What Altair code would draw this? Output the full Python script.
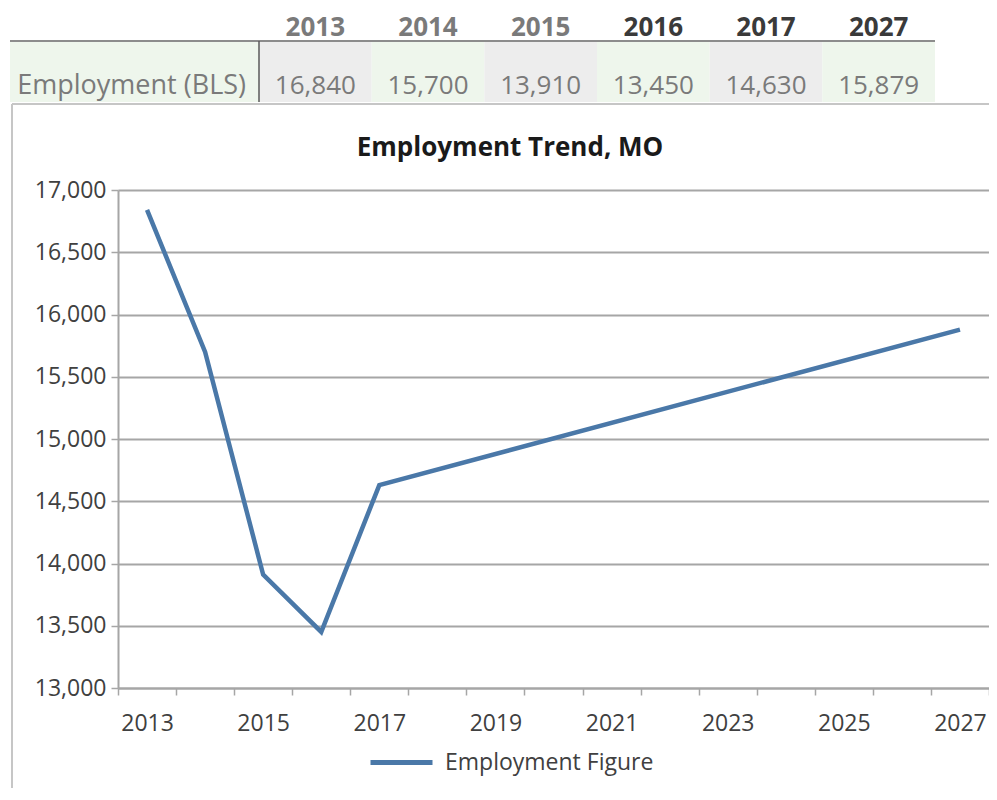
import altair as alt
import pandas as pd

# ---- data ----
years = [2013, 2014, 2015, 2016, 2017, 2027]
employment = [16840, 15700, 13910, 13450, 14630, 15879]
axis_years = list(range(2013, 2028))
y_ticks = list(range(13000, 17001, 500))
series_name = "Employment Figure"
row_label = "Employment (BLS)"
chart_title = "Employment Trend, MO"

FONT = "Open Sans"
LINE_COLOR = "#4a78a8"
GRID = "#a6a6a6"
TEXT_DARK = "#404040"
TEXT_GRAY = "#7a7a7a"
CELL_GRAY = "#ededed"
CELL_GREEN = "#eef6ec"

line_df = pd.DataFrame({"year": years, "value": employment, "series": series_name})
table_df = pd.DataFrame({"col": list(range(1, len(years) + 1)), "year": years, "value": employment})
title_df = pd.DataFrame({"title": [chart_title]})

# ---- main line chart ----
line = alt.Chart(line_df).mark_line(strokeWidth=4.5, strokeJoin="miter").encode(
    x=alt.X(
        "year:O",
        bandPosition=0.5,
        scale=alt.Scale(type="band", domain=axis_years, paddingInner=0, paddingOuter=0),
        axis=alt.Axis(
            title=None, tickBand="extent", labelAngle=0,
            labelExpr="datum.value % 2 == 1 ? datum.label : ''",
            labelFont=FONT, labelFontSize=23, labelColor=TEXT_DARK, labelPadding=17,
            tickSize=7, tickColor=GRID, tickWidth=1.5,
            domainColor=GRID, domainWidth=2, grid=False,
        ),
    ),
    y=alt.Y(
        "value:Q",
        scale=alt.Scale(domain=[13000, 17000], nice=False, zero=False),
        axis=alt.Axis(
            title=None, values=y_ticks,
            labelExpr="format(datum.value, ',')",
            labelFont=FONT, labelFontSize=23, labelColor=TEXT_DARK, labelPadding=5,
            tickSize=7, tickColor=GRID, tickWidth=1.5,
            domainColor=GRID, domainWidth=2,
            grid=True, gridColor=GRID, gridWidth=1.8,
        ),
    ),
    color=alt.Color(
        "series:N",
        scale=alt.Scale(range=[LINE_COLOR]),
        legend=alt.Legend(
            title=None, orient="none", legendX=250, legendY=539, padding=0,
            symbolType="stroke", symbolSize=3844, symbolStrokeWidth=5,
            labelFont=FONT, labelFontSize=23, labelColor=TEXT_DARK, labelOffset=10,
            labelLimit=500,
        ),
    ),
)

# ---- chart title as text ----
title_mark = alt.Chart(title_df).mark_text(
    font=FONT, fontSize=26, fontWeight="bold", color="#1a1a1a",
    align="center", baseline="alphabetic",
).encode(x=alt.value(392), y=alt.value(-34), text="title:N")

# ---- table on top ----
tscale_x = alt.Scale(domain=[0.5, 6.5], range=[141, 817])
tscale_y = alt.Scale(type="band", domain=["header", "value"], range=[-210, -88], paddingInner=0, paddingOuter=0)

cells = alt.Chart(table_df).transform_calculate(
    c0="datum.col - 0.5", c1="datum.col + 0.5", row="'value'"
).mark_rect().encode(
    x=alt.X("c0:Q", scale=tscale_x, axis=None),
    x2="c1:Q",
    y=alt.Y("row:N", scale=tscale_y, axis=None),
    color=alt.condition("datum.col % 2 == 1", alt.value(CELL_GRAY), alt.value(CELL_GREEN)),
)

label_cell = alt.Chart(table_df).transform_filter("datum.col == 1").transform_calculate(
    row="'value'"
).mark_rect(color=CELL_GREEN).encode(
    x=alt.value(-108), x2=alt.value(141),
    y=alt.Y("row:N", scale=tscale_y, axis=None),
)

header_rule = alt.Chart(table_df).transform_filter("datum.col == 1").mark_rule(
    color="#8c8c8c", strokeWidth=2
).encode(x=alt.value(-108), x2=alt.value(817), y=alt.value(-149))

sep_rule = alt.Chart(table_df).transform_filter("datum.col == 1").mark_rule(
    color="#5a5a5a", strokeWidth=1.5
).encode(x=alt.value(141), y=alt.value(-149), y2=alt.value(-88))

border_top = alt.Chart(table_df).transform_filter("datum.col == 1").mark_rule(
    color="#c6c6c6", strokeWidth=2
).encode(x=alt.value(-106), x2=alt.value(880), y=alt.value(-86))

border_left = alt.Chart(table_df).transform_filter("datum.col == 1").mark_rule(
    color="#c6c6c6", strokeWidth=2
).encode(x=alt.value(-106), y=alt.value(-86), y2=alt.value(620))

header_text = alt.Chart(table_df).transform_calculate(
    row="'header'", label="'' + datum.year"
).mark_text(font=FONT, fontSize=26, fontWeight="bold", dy=17).encode(
    x=alt.X("col:Q", scale=tscale_x, axis=None),
    y=alt.Y("row:N", scale=tscale_y, axis=None),
    text="label:N",
    color=alt.condition("datum.year >= 2016", alt.value("#3a3a3a"), alt.value(TEXT_GRAY)),
)

value_text = alt.Chart(table_df).transform_calculate(row="'value'").mark_text(
    font=FONT, fontSize=26, dy=14, color=TEXT_GRAY
).encode(
    x=alt.X("col:Q", scale=tscale_x, axis=None),
    y=alt.Y("row:N", scale=tscale_y, axis=None),
    text=alt.Text("value:Q", format=","),
)

label_text = alt.Chart(table_df).transform_filter("datum.col == 1").transform_calculate(
    edge="datum.col - 0.5", row="'value'", label=f"'{row_label}'"
).mark_text(font=FONT, fontSize=27, dy=14, dx=-13, align="right", color=TEXT_GRAY).encode(
    x=alt.X("edge:Q", scale=tscale_x, axis=None),
    y=alt.Y("row:N", scale=tscale_y, axis=None),
    text="label:N",
)

chart = alt.layer(
    label_cell, cells, header_rule, sep_rule, border_top, border_left,
    header_text, value_text, label_text, title_mark, line,
).resolve_scale(
    x="independent", y="independent", color="independent"
).properties(
    width=871, height=498,
    autosize=alt.AutoSizeParams(type="none"),
    padding={"left": 110, "top": 182, "right": 0, "bottom": 100},
).configure_view(stroke=None)

chart.save("out.html", embed_options={"renderer": "svg", "actions": False})
